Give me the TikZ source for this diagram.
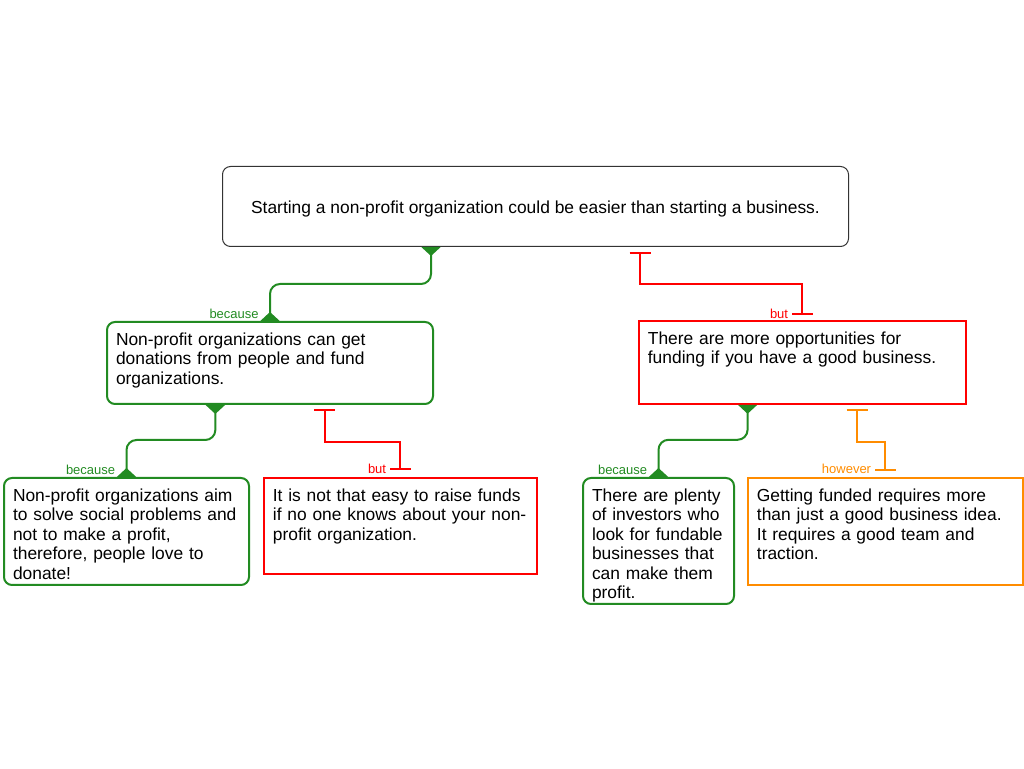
\documentclass[tikz,border=0pt]{standalone}
\usepackage{fontspec}
\setmainfont{Liberation Sans}
\usepackage{tikz}
\usetikzlibrary{positioning,calc,arrows.meta}
\definecolor{cgreen}{RGB}{34,139,34}
\definecolor{cred}{RGB}{255,0,0}
\definecolor{corange}{RGB}{255,140,0}
\newcommand{\argfont}{\fontsize{17.4}{19.5}\selectfont}
\newcommand{\lblfont}{\fontsize{13}{14}\selectfont}
\tikzset{
	arg/.style = { draw, anchor=north west, align=left, inner xsep=9pt, inner ysep=8pt, text height=15.5pt, font=\argfont },
	claimbox/.style = { draw=black!80, line width=1pt, rounded corners=8pt, anchor=north west, align=center,
		minimum width=626pt, minimum height=80pt, text height=15pt, text depth=0pt, font=\argfont },
	pro/.style = { arg, draw=cgreen, line width=2pt, rounded corners=8pt },
	con/.style = { arg, draw=cred, line width=1.8pt },
	obj/.style = { arg, draw=corange, line width=1.8pt },
	lbl/.style = { font=\lblfont, anchor=base east },
	flare/.tip = { Triangle[reversed, width=19pt, length=9pt] },
	sup/.style = { cgreen, line width=2pt, rounded corners=10pt, flare-flare },
	att/.style = { line width=2pt, {Bar[width=21pt]}-{Bar[width=21pt]} },
}
\begin{document}
\begin{tikzpicture}[x=1pt,y=1pt]
\useasboundingbox (0,0) rectangle (1024,768);

\node (claim) [claimbox] at (222,602) {Starting a non-profit organization could be easier than starting a business.};

\node (proA) [pro,text width=308pt,text depth=50.5pt] at (106,447) {Non-profit organizations can get\\donations from people and fund\\organizations.};
\node (conB) [con,text width=309pt,text depth=51.5pt] at (638,448) {There are more opportunities for\\funding if you have a good business.};

\node (proC) [pro,text width=227pt,text depth=75.5pt] at (3,291)   {Non-profit organizations aim\\to solve social problems and\\not to make a profit,\\therefore, people love to\\donate!};
\node (conD) [con,text width=255pt,text depth=64.5pt] at (263,291) {It is not that easy to raise funds\\if no one knows about your non-\\profit organization.};
\node (proE) [pro,text width=133pt,text depth=94.5pt] at (582,291) {There are plenty\\of investors who\\look for fundable\\businesses that\\can make them\\profit.};
\node (objF) [obj,text width=257pt,text depth=75.5pt] at (747,291) {Getting funded requires more\\than just a good business idea.\\It requires a good team and\\traction.};

% claim
\draw[sup] ($(claim.south west)!1/3!(claim.south east)$) -- ++(0,-37) -| (proA.north)
	node[lbl,text=cgreen,xshift=-7pt,yshift=2pt] {because};
\draw[att,cred] ($(claim.south west)!2/3!(claim.south east)+(0,-5)$) -- ++(0,-32) -| ($(conB.north)+(0,5)$)
	node[lbl,text=cred,xshift=-10pt,yshift=-4pt] {but};

% proA
\draw[sup] ($(proA.south west)!1/3!(proA.south east)$) -- ++(0,-35) -| (proC.north)
	node[lbl,text=cgreen,xshift=-7pt,yshift=2pt] {because};
\draw[att,cred] ($(proA.south west)!2/3!(proA.south east)+(0,-4)$) -- ++(0,-33) -| ($(conD.north)+(0,6.5)$)
	node[lbl,text=cred,xshift=-10pt,yshift=-3pt] {but};

% conB
\draw[sup] ($(conB.south west)!1/3!(conB.south east)$) -- ++(0,-35) -| (proE.north)
	node[lbl,text=cgreen,xshift=-7pt,yshift=2pt] {because};
\draw[att,corange] ($(conB.south west)!2/3!(conB.south east)+(0,-4)$) -- ++(0,-33) -| ($(objF.north)+(0,5.5)$)
	node[lbl,text=corange,xshift=-10pt,yshift=-2pt] {however};

\end{tikzpicture}
\end{document}
